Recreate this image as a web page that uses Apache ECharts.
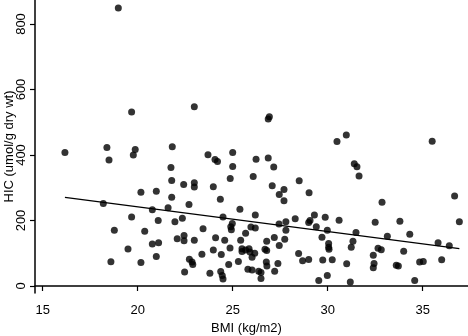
<!DOCTYPE html>
<html>
<head>
<meta charset="utf-8">
<script src="https://cdn.jsdelivr.net/npm/echarts@6/dist/echarts.min.js"></script>
<style>html,body{margin:0;padding:0;background:#fff}#c{width:468px;height:336px}</style>
</head>
<body>
<div id="c"></div>
<script>
const bmi = [18.98,19.68,22.98,16.17,18.38,18.49,19.87,19.77,21.82,21.75,23.7,24.07,24.2,25.0,25.0,26.93,26.87,30.98,30.49,35.5,26.23,26.87,27.16,31.4,31.54,
21.79,22.42,20.17,20.98,21.79,18.19,20.77,21.6,19.68,21.08,21.96,22.35,18.77,20.37,22.08,22.44,22.44,20.77,21.1,19.49,20.98,18.59,20.17,22.47,
22.98,22.98,23.98,24.87,26.08,27.08,27.7,27.45,27.7,28.5,29.02,24.35,22.7,25.38,24.49,26.19,24.98,24.9,24.93,25.96,26.19,27.44,27.8,27.8,28.29,29.0,29.07,29.3,29.87,29.4,29.98,23.44,22.98,24.1,24.58,25.68,25.42,26.79,27.19,27.74,27.45,29.7,30.05,30.05,23.98,24.86,25.49,25.49,25.68,25.86,25.91,26.16,26.02,26.7,26.79,23.38,24.4,22.72,22.86,22.9,24.79,25.3,26.77,26.8,27.38,25.8,26.02,26.37,26.49,26.49,27.21,23.8,24.37,24.45,24.49,28.47,28.68,29.0,29.74,29.53,29.98,
31.65,32.86,36.68,36.93,30.6,32.5,33.8,31.49,33.14,34.32,30.07,31.33,31.24,32.65,32.82,32.4,32.44,32.4,34.0,33.61,33.72,34.84,35.03,36.0,35.81,36.4,30.24,31.0,31.19,34.58];
const hic = [849,531,547,408,423,385,417,400,425,362,401,386,380,408,365,517,510,461,441,442,387,391,363,373,364,
322,310,286,289,271,252,233,239,211,200,196,207,170,167,144,154,138,128,132,113,90,74,72,43,
315,302,303,328,334,306,295,279,260,321,285,265,249,234,211,217,191,181,172,180,177,189,196,170,205,194,200,217,210,181,170,175,140,147,140,161,140,137,148,143,124,149,130,118,110,116,114,105,110,114,104,100,88,112,108,97,96,82,73,66,66,75,73,61,69,51,49,45,41,23,45,39,44,32,21,99,77,81,79,17,32,
336,256,275,196,201,195,198,163,152,158,112,137,118,115,111,94,69,56,106,63,61,73,75,80,132,123,80,68,12,17];
const xTicks = [15,20,25,30,35];
const yTicks = [0,200,400,600,800];
const fitSlope = -7.54;
const fitIntercept = 392.7;

const pts = bmi.map((v,i)=>[v,hic[i]]);
const xMinD = Math.min(...bmi), xMaxD = Math.max(...bmi);
const fitLine = [[xMinD, fitIntercept + fitSlope*xMinD],[xMaxD, fitIntercept + fitSlope*xMaxD]];
const font = 'Liberation Sans, Arial, Helvetica, sans-serif';
const chart = echarts.init(document.getElementById('c'));
chart.setOption({
  animation:false,
  grid:{left:35,right:0,top:0,bottom:43,containLabel:false,outerBoundsMode:'none'},
  xAxis:{type:'value',min:14.595,max:37.385,
    name:'BMI (kg/m2)',nameLocation:'middle',nameGap:29,nameMoveOverlap:false,
    nameTextStyle:{color:'#000',fontSize:13,fontFamily:font,padding:[0,10,0,0]},
    axisLine:{show:true,lineStyle:{color:'#000',width:1.5}},
    axisTick:{show:true,length:5,inside:false,lineStyle:{color:'#000',width:1.2},customValues:xTicks},
    axisLabel:{color:'#000',fontSize:13,fontFamily:font,margin:11,customValues:xTicks},
    splitLine:{show:false}},
  yAxis:{type:'value',min:-21.4,max:873.3,
    name:'HIC (umol/g dry wt)',nameLocation:'middle',nameGap:19,nameRotate:90,nameMoveOverlap:false,
    nameTextStyle:{color:'#000',fontSize:13,fontFamily:font},
    axisLine:{show:true,lineStyle:{color:'#000',width:1.5}},
    axisTick:{show:true,length:5,inside:false,lineStyle:{color:'#000',width:1.2},customValues:yTicks},
    axisLabel:{color:'#000',fontSize:13,fontFamily:font,margin:7,rotate:90,customValues:yTicks},
    splitLine:{show:false}},
  series:[
    {type:'scatter',data:pts,symbol:'circle',symbolSize:7,itemStyle:{color:'#000'}},
    {type:'line',data:fitLine,symbol:'none',lineStyle:{color:'#000',width:1.3}}
  ]
});
</script>
</body>
</html>
